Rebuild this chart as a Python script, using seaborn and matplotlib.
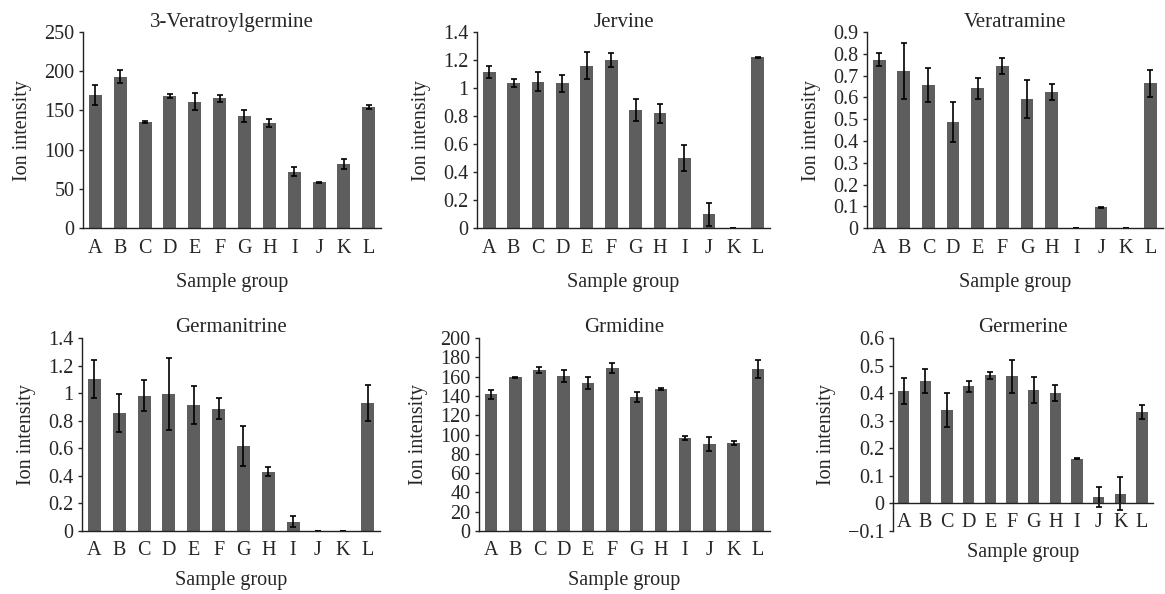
import matplotlib
matplotlib.use("Agg")
import matplotlib.pyplot as plt
import matplotlib.ticker as mticker
import seaborn as sns
import numpy as np

# Sample groups on the x axis
groups = list("ABCDEFGHIJKL")

# Mean ion intensity and error per compound
veratroylgermine = [170, 193, 135, 168.5, 161, 165.5, 143, 134, 72, 58.5, 81.5, 154.5]
veratroylgermine_err = [13, 8, 1.5, 2.5, 11, 4.5, 7.5, 5.5, 5.5, 0.8, 6, 3]

jervine = [1.115, 1.035, 1.045, 1.035, 1.16, 1.2, 0.845, 0.82, 0.5, 0.098, 0.0, 1.22]
jervine_err = [0.04, 0.03, 0.068, 0.06, 0.095, 0.052, 0.077, 0.068, 0.095, 0.08, 0.0, 0.003]

veratramine = [0.772, 0.722, 0.657, 0.487, 0.642, 0.745, 0.593, 0.625, 0.0, 0.095, 0.0, 0.665]
veratramine_err = [0.03, 0.13, 0.077, 0.093, 0.048, 0.038, 0.088, 0.035, 0.0, 0.004, 0.0, 0.062]

germanitrine = [1.103, 0.857, 0.98, 0.994, 0.915, 0.886, 0.618, 0.43, 0.068, 0.0, 0.0, 0.929]
germanitrine_err = [0.138, 0.14, 0.113, 0.264, 0.14, 0.077, 0.145, 0.031, 0.038, 0.0, 0.0, 0.133]

grmidine = [141.7, 159.3, 166.6, 160.7, 153.4, 169, 139, 147.2, 96.2, 90.3, 91.4, 168]
grmidine_err = [4.8, 0.5, 3, 6.5, 6, 5.5, 5, 1, 2, 7, 2, 9]

germerine = [0.407, 0.444, 0.339, 0.425, 0.465, 0.461, 0.412, 0.401, 0.163, 0.024, 0.035, 0.332]
germerine_err = [0.047, 0.045, 0.062, 0.02, 0.012, 0.06, 0.046, 0.03, 0.003, 0.037, 0.06, 0.025]

titles = ["3-Veratroylgermine", "Jervine", "Veratramine",
          "Germanitrine", "Grmidine", "Germerine"]
means = [veratroylgermine, jervine, veratramine, germanitrine, grmidine, germerine]
errors = [veratroylgermine_err, jervine_err, veratramine_err,
          germanitrine_err, grmidine_err, germerine_err]
y_ranges = [(0, 250, 50), (0, 1.4, 0.2), (0, 0.9, 0.1),
            (0, 1.4, 0.2), (0, 200, 20), (-0.1, 0.6, 0.1)]

sns.set_style("ticks")
plt.rcParams["font.family"] = ["Liberation Serif", "DejaVu Serif"]
FS = 14.5

BAR_COLOR = "#5e5e5e"

fig = plt.figure(figsize=(11.65, 5.94), dpi=100)

# axes boxes [left, bottom, width, height] in figure fraction
boxes = [
    [0.0712, 0.616, 0.256, 0.330],
    [0.4094, 0.616, 0.2515, 0.330],
    [0.7440, 0.616, 0.2540, 0.330],
    [0.0704, 0.1060, 0.2558, 0.325],
    [0.4110, 0.1060, 0.2500, 0.325],
    [0.7665, 0.1060, 0.2230, 0.325],
]


def fmt_tick(v, pos):
    s = f"{round(v, 6):g}"
    return s.replace("-", "\u2212")


for i, (title, vals, errs, (lo, hi, step), box) in enumerate(
        zip(titles, means, errors, y_ranges, boxes)):
    ax = fig.add_axes(box)
    sns.barplot(x=groups, y=vals, color=BAR_COLOR, saturation=1,
                width=0.52, ax=ax, edgecolor="none")
    ax.errorbar(np.arange(len(groups)), vals, yerr=errs, fmt="none",
                ecolor="black", elinewidth=1.2, capsize=2.5, capthick=1.2)

    ax.set_ylim(lo, hi)
    ax.set_yticks(np.arange(lo, hi + step / 2, step))
    ax.yaxis.set_major_formatter(mticker.FuncFormatter(fmt_tick))
    ax.set_xlim(-0.5, len(groups) - 0.5)

    sns.despine(ax=ax)
    for sp in ("left", "bottom"):
        ax.spines[sp].set_color("#222222")
        ax.spines[sp].set_linewidth(1.0)
    if lo < 0:
        ax.spines["bottom"].set_position(("data", 0))

    bottom_row = i >= 3
    ax.tick_params(axis="y", length=3, width=1, pad=3, labelsize=FS)
    ax.tick_params(axis="x", length=0, pad=7 if bottom_row else 8, labelsize=FS)

    ax.set_xlabel("Sample group", fontsize=FS, labelpad=8 if bottom_row else 11)
    ax.set_ylabel("Ion intensity", fontsize=FS, labelpad=9)
    ax.set_title(title, fontsize=15, pad=4 if bottom_row else 1)

fig.savefig("out.png", dpi=100)
